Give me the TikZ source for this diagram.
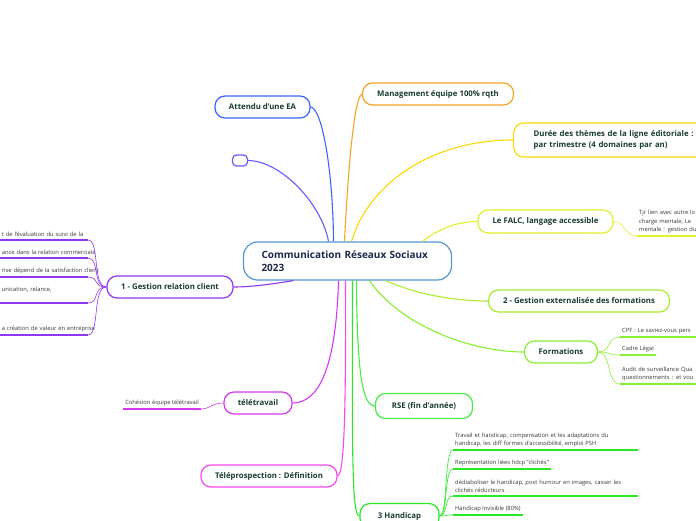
\documentclass[tikz,border=0pt]{standalone}
\usepackage{fontspec}
\setmainfont{Open Sans}
\usetikzlibrary{positioning, calc}
\definecolor{rootblue}{RGB}{85,150,210}
\definecolor{attblue}{RGB}{60,100,255}
\definecolor{blankpurple}{RGB}{105,90,255}
\definecolor{mgmtorange}{RGB}{245,165,35}
\definecolor{dureeyellow}{RGB}{255,215,0}
\definecolor{falcyellow}{RGB}{228,240,40}
\definecolor{gestlime}{RGB}{170,235,50}
\definecolor{formgreen}{RGB}{135,240,50}
\definecolor{rsegreen}{RGB}{70,235,70}
\definecolor{handgreen}{RGB}{40,232,40}
\definecolor{grcpurple}{RGB}{145,55,240}
\definecolor{telemagenta}{RGB}{215,55,240}
\definecolor{telepink}{RGB}{250,70,240}
\definecolor{labelgreen}{RGB}{25,60,45}
\definecolor{rootnavy}{RGB}{30,40,75}
\definecolor{leafgray}{RGB}{55,55,55}
\newcommand\topicfont{\fontsize{7.8}{10.5}\selectfont\bfseries}
\newcommand\rootfont{\fontsize{10}{12.5}\selectfont\bfseries}
\newcommand\leaffont{\fontsize{5.8}{8.3}\selectfont}
\tikzset{
  root/.style={draw=rootblue, line width=1.2pt, rounded corners=14pt, fill=white, font=\rootfont,
    text=rootnavy, align=left, text width=172pt, minimum width=208pt, minimum height=38pt},
  topic/.style={draw=#1, line width=1.2pt, rounded corners=10pt, fill=white, font=\topicfont,
    text=labelgreen, minimum height=22pt, inner sep=2pt},
  link/.style={draw=#1, line width=1.1pt},
  twig/.style={draw=#1, line width=0.6pt},
  leaf/.style={font=\leaffont, text=leafgray, inner xsep=2pt, inner ysep=3pt,
    align=left, append after command={\pgfextra{\let\lastleaf\tikzlastnode}
      (\lastleaf.south west) edge[draw=#1, line width=1.4pt] (\lastleaf.south east)}},
}
\begin{document}
\begin{tikzpicture}[x=1pt, y=-1pt]
  \useasboundingbox (0,0) rectangle (696,520);
  \clip (0,0) rectangle (696,520);

  % central topic
  \node[root] (root) at (347.5,261) {Communication Réseaux Sociaux\\2023};

  % main topics
  \node[topic=attblue, minimum width=95pt] (attendu) at (262.5,107) {Attendu d'une EA};
  \node[topic=blankpurple, minimum width=15pt, minimum height=11pt, rounded corners=4pt, inner sep=0pt] (blank) at (240,160.5) {};
  \node[topic=mgmtorange, minimum width=151pt] (mgmt) at (438,94) {Management équipe 100\% rqth};
  \node[topic=dureeyellow, anchor=west, minimum width=200pt, minimum height=34pt, text width=160pt, align=left] (duree) at (513,140)
    {\mbox{Durée des thèmes de la ligne éditoriale : 1}\\par trimestre (4 domaines par an)};
  \node[topic=falcyellow, minimum width=135pt, minimum height=23pt] (falc) at (545.5,221.5) {Le FALC, langage accessible};
  \node[topic=gestlime, minimum width=181pt] (gest) at (579,301) {2 - Gestion externalisée des formations};
  \node[topic=formgreen, minimum width=73pt] (form) at (561,352) {Formations};
  \node[topic=rsegreen, minimum width=97pt, minimum height=25pt] (rse) at (424,406) {RSE (fin d'année)};
  \node[topic=handgreen, minimum width=79pt, minimum height=25pt] (hand) at (399.5,516) {3 Handicap};
  \node[topic=grcpurple, minimum width=126pt] (grc) at (170,287) {1 - Gestion relation client};
  \node[topic=telemagenta, minimum width=68pt] (tele) at (258,403) {télétravail};
  \node[topic=telepink, minimum width=136pt] (telep) at (269,476) {Téléprospection : Définition};

  % links from the centre
  \draw[link=attblue] ([xshift=-14pt]root.north) .. controls (333,170) and (322,108) .. (attendu.east);
  \draw[link=blankpurple] ([xshift=-19pt]root.north) .. controls (322,205) and (282,161) .. (blank.east);
  \draw[link=mgmtorange] ([xshift=-3pt]root.north) .. controls (347,190) and (353,98) .. (mgmt.west);
  \draw[link=dureeyellow] ([xshift=4pt]root.north) .. controls (368,185) and (430,140) .. (duree.west);
  \draw[link=falcyellow] ([xshift=75pt]root.north) .. controls (440,228) and (458,221.5) .. (falc.west);
  \draw[link=gestlime] ([xshift=38pt]root.south) .. controls (420,296) and (460,301) .. (gest.west);
  \draw[link=formgreen] ([xshift=22pt]root.south) .. controls (400,325) and (470,352) .. (form.west);
  \draw[link=rsegreen] ([xshift=9pt]root.south) .. controls (357,370) and (362,406) .. (rse.west);
  \draw[link=handgreen] ([xshift=5pt]root.south) .. controls (352,460) and (352,516) .. (hand.west);
  \draw[link=telepink] ([xshift=-2pt]root.south) .. controls (346,420) and (344,474) .. (telep.east);
  \draw[link=telemagenta] ([xshift=-9pt]root.south) .. controls (336,370) and (318,403) .. (tele.east);
  \draw[link=grcpurple] ([xshift=-54pt]root.south) .. controls (272,284) and (252,287) .. (grc.east);

  % leaves of 1 - Gestion relation client
  \node[leaf=grcpurple, anchor=south east, text width=84pt] (gl1) at (88,240) {\mbox{t de l'évaluation du suivi de la}};
  \node[leaf=grcpurple, anchor=south east, text width=84pt] (gl2) at (88,258) {\mbox{ance dans la relation commerciale}};
  \node[leaf=grcpurple, anchor=south east, text width=84pt] (gl3) at (88,277) {\mbox{rise dépend de la satisfaction client}};
  \node[leaf=grcpurple, anchor=south east, text width=84pt] (gl4) at (88,303) {\mbox{unication, relance,}\\\mbox{}};
  \node[leaf=grcpurple, anchor=south east, text width=84pt] (gl5) at (88,335) {\mbox{a création de valeur en entreprise}};
  \draw[twig=grcpurple] (grc.west) .. controls (92,287) and (100,240) .. (gl1.south east);
  \draw[twig=grcpurple] (grc.west) .. controls (92,287) and (100,258) .. (gl2.south east);
  \draw[twig=grcpurple] (grc.west) .. controls (92,287) and (100,277) .. (gl3.south east);
  \draw[twig=grcpurple] (grc.west) .. controls (92,287) and (100,303) .. (gl4.south east);
  \draw[twig=grcpurple] (grc.west) .. controls (92,287) and (100,335) .. (gl5.south east);

  % leaf of télétravail
  \node[leaf=telemagenta, anchor=south east] (tl1) at (201,409) {Cohésion équipe télétravail};
  \draw[twig=telemagenta] (tele.west) .. controls (212,403) and (210,409) .. (tl1.south east);

  % leaf of Le FALC
  \node[leaf=falcyellow, anchor=south west, text width=60pt] (fl1) at (637,236)
    {\mbox{Tjr lien avec autre lo}\\\mbox{charge mentale, Le}\\\mbox{mentale : gestion du}};
  \draw[twig=falcyellow] (falc.east) .. controls (626,221.5) and (624,236) .. (fl1.south west);

  % leaves of Formations
  \node[leaf=formgreen, anchor=south west, text width=74pt] (fo1) at (620,337) {\mbox{CPF : Le saviez-vous pers}};
  \node[leaf=formgreen, anchor=south west] (fo2) at (620,355) {Cadre Légal};
  \node[leaf=formgreen, anchor=south west, text width=74pt] (fo3) at (620,384)
    {\mbox{Audit de surveillance Qua}\\\mbox{questionnements : et vou}};
  \draw[twig=formgreen] (form.east) .. controls (612,352) and (606,337) .. (fo1.south west);
  \draw[twig=formgreen] (form.east) .. controls (612,352) and (606,355) .. (fo2.south west);
  \draw[twig=formgreen] (form.east) .. controls (612,352) and (606,384) .. (fo3.south west);

  % leaves of 3 Handicap
  \node[leaf=handgreen, anchor=south west, text width=181pt] (hl1) at (453,450)
    {Travail et handicap, compensation et les adaptations du\\handicap, les diff formes d'accessibilité, emploi PSH};
  \node[leaf=handgreen, anchor=south west] (hl2) at (453,469) {Représentation liées hdcp "clichés"};
  \node[leaf=handgreen, anchor=south west, text width=181pt] (hl3) at (453,496)
    {dédiaboliser le handicap, post humour en images, casser les\\clichés réducteurs};
  \node[leaf=handgreen, anchor=south west] (hl4) at (453,515) {Handicap invisible (80\%)};
  \draw[twig=handgreen] (hand.east) .. controls (448,516) and (444,450) .. (hl1.south west);
  \draw[twig=handgreen] (hand.east) .. controls (448,516) and (444,469) .. (hl2.south west);
  \draw[twig=handgreen] (hand.east) .. controls (448,516) and (444,496) .. (hl3.south west);
  \draw[twig=handgreen] (hand.east) .. controls (448,516) and (444,515) .. (hl4.south west);
\end{tikzpicture}
\end{document}
